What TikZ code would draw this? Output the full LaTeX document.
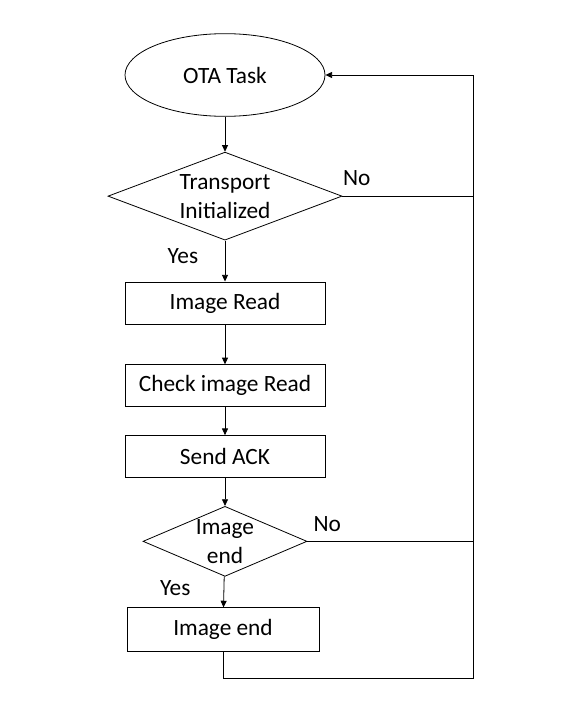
\documentclass[tikz,border=0pt]{standalone}
\usepackage{fontspec}
\setmainfont{Carlito}
\usetikzlibrary{arrows.meta,positioning,shapes.geometric}

\begin{document}
\begin{tikzpicture}[font=\fontsize{17.5}{21.75}\selectfont, node distance=30pt]

% Styles
\tikzset{
  start/.style={
    draw,
    ellipse,
    line width=0.6pt,
    minimum width=150pt,
    minimum height=62pt,
    inner sep=0pt
  },
  decision/.style={
    draw,
    diamond,
    line width=0.6pt,
    inner sep=-3pt,
    align=center
  },
  process/.style={
    draw,
    rectangle,
    line width=0.6pt,
    minimum width=150pt,
    minimum height=31.5pt,
    inner sep=0pt,
    align=center
  },
  flow/.style={
    -{Triangle[length=5pt, width=4.5pt]},
    line width=0.6pt
  },
  link/.style={
    line width=0.6pt
  }
}

\useasboundingbox (0,0) rectangle (421.5pt,-540.75pt);

% Nodes
\node[start] (ota) at (168.75pt,-56.25pt) {OTA Task};
\node[decision, aspect=2.66, minimum width=175.5pt, minimum height=66pt,
      below=26.25pt of ota] (transport) {Transport\\Initialized};
\node[process, below=30.75pt of transport] (read) {Image Read};
\node[process, below=30pt of read] (check) {Check image Read};
\node[process, below=21pt of check] (ack) {Send ACK};
\node[decision, aspect=2.34, minimum width=123pt, minimum height=52.5pt,
      below=21pt of ack] (imgchk) {Image\\end};
\node[process, minimum width=144pt, minimum height=33pt,
      below=23pt of imgchk, xshift=-1.5pt] (imgend) {Image end};

% Return path corners
\coordinate[right=111pt of ota.east] (back);
\coordinate[below=20pt of imgend.south] (low);

% Main flow
\draw[flow] (ota) -- (transport);
\draw[flow] (transport) -- (read) node[pos=0.38, left, xshift=-16.5pt] {Yes};
\draw[flow] (read) -- (check);
\draw[flow] (check) -- (ack);
\draw[flow] (ack) -- (imgchk);
\draw[flow] (imgchk) -- (imgend) node[pos=0.375, left, xshift=-21.5pt] {Yes};

% No branches
\draw[link] (transport.east) -- (transport.east -| back)
  node[pos=0.11, above, yshift=4pt] {No};
\draw[link] (imgchk.east) -- (imgchk.east -| back)
  node[pos=0.12, above, yshift=4pt] {No};

% Loop back
\draw[flow] (imgend.south) -- (low) -| (back) -- (ota.east);

\end{tikzpicture}
\end{document}
